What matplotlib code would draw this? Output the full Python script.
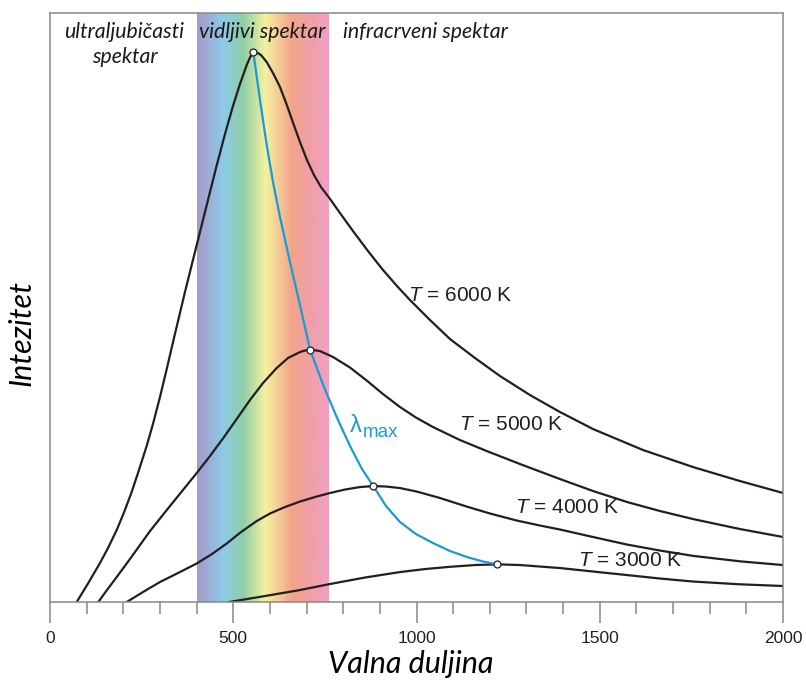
import numpy as np
import matplotlib
matplotlib.use("Agg")
from matplotlib import pyplot as plt
from matplotlib.colors import LinearSegmentedColormap

# wavelength (nm) / intensity (arb. units, 0-100)
wl_6000 = [72.9, 103.7, 136.4, 158.3, 182.0, 201.9, 222.9, 242.8, 263.8, 281.0, 300.1, 319.2,
           338.3, 368.3, 400.3, 425.6, 454.8, 477.5, 499.3, 518.4, 536.7, 545.7, 554.7, 564.8,
           575.7, 591.3, 608.5, 627.6, 646.7, 663.0, 682.1, 701.2, 720.3, 739.4, 761.3, 791.3,
           826.7, 867.7, 908.6, 946.8, 982.3, 1036.8, 1091.4, 1159.6, 1227.8, 1309.7, 1391.5,
           1481.6, 1618.0, 1754.4, 1882.7, 2000]
int_6000 = [0, 3.14, 6.62, 9.17, 12.22, 15.20, 18.68, 22.41, 26.49, 30.22, 34.80, 39.73,
            44.82, 52.63, 60.61, 66.89, 74.11, 79.46, 84.21, 87.95, 91.17, 92.45, 93.38, 93.29,
            92.87, 91.68, 89.81, 87.44, 84.30, 81.41, 78.10, 75.04, 72.50, 70.46, 68.68, 66.04,
            62.99, 59.59, 56.37, 53.65, 51.27, 47.88, 44.65, 41.43, 38.37, 35.14, 32.26,
            29.37, 25.81, 22.92, 20.54, 18.51]

wl_5000 = [131.8, 155.5, 182.0, 218.3, 272.9, 327.4, 362.9, 400.3, 436.6, 472.8, 507.5, 545.7,
           581.2, 618.5, 649.4, 682.1, 695.8, 709.4, 736.7, 772.2, 818.6, 864.1, 908.6, 955.0,
           998.6, 1045.0, 1118.7, 1191.5, 1282.4, 1391.5, 1481.6, 1574.4, 1664.4, 1754.4,
           1882.7, 2000]
int_5000 = [0, 2.04, 4.24, 7.30, 12.05, 16.30, 19.02, 21.90, 24.79, 27.84, 30.90, 34.30,
            37.18, 39.73, 41.43, 42.44, 42.70, 42.87, 42.61, 41.60, 39.81, 37.61, 35.31, 33.11,
            31.32, 29.71, 27.50, 25.64, 23.43, 20.88, 18.85, 16.98, 15.45, 14.09,
            12.39, 11.04]

wl_4000 = [209.3, 253.8, 300.1, 349.2, 400.3, 442.0, 482.1, 521.1, 564.0, 600.3, 641.2, 682.1,
           723.1, 764.0, 804.9, 845.8, 882.1, 916.8, 955.0, 1000.5, 1064.1, 1136.9, 1200.5,
           1273.4, 1336.9, 1391.5, 1481.6, 1574.4, 1664.4, 1754.4, 1882.7, 2000]
int_4000 = [0, 1.70, 3.40, 4.92, 6.54, 8.15, 9.93, 11.88, 13.75, 15.03, 16.13, 17.06,
            17.83, 18.51, 19.10, 19.52, 19.69, 19.61, 19.35, 18.76, 17.66, 16.21, 15.03,
            13.84, 12.99, 12.31, 11.04, 9.76, 8.74, 7.84, 6.91, 6.28]

wl_3000 = [488.4, 586.6, 682.1, 764.0, 859.5, 955.0, 1023.2, 1091.4, 1159.6, 1219.6, 1282.4,
           1391.5, 1481.6, 1574.4, 1664.4, 1754.4, 1882.7, 2000]
int_3000 = [0, 1.02, 2.04, 3.06, 4.16, 5.09, 5.60, 5.98, 6.28, 6.40, 6.28,
            5.77, 5.18, 4.58, 3.99, 3.48, 3.01, 2.72]

# line through the maxima
wl_max = [554.7, 573.0, 591.3, 608.5, 627.6, 654.8, 682.1, 709.4, 747.6, 785.8, 818.6, 851.3,
          882.1, 916.8, 955.0, 998.6, 1045.0, 1091.4, 1137.8, 1181.4, 1219.6]
int_max = [93.38, 85.23, 77.59, 71.31, 65.37, 57.72, 50.42, 42.87, 36.50, 30.90, 26.49, 22.58,
           19.69, 16.30, 13.58, 11.54, 10.02, 8.66, 7.64, 6.88, 6.40]

peak_wl = [554.7, 709.4, 882.1, 1219.6]
peak_int = [93.38, 42.87, 19.69, 6.40]

labels = ["$\\mathit{T}$ = 6000 K", "$\\mathit{T}$ = 5000 K",
          "$\\mathit{T}$ = 4000 K", "$\\mathit{T}$ = 3000 K"]
label_pos = [(977, 52.0), (1116, 30.1), (1269, 16.0), (1441, 7.1)]

visible = (400, 760)

plt.rcParams['mathtext.fontset'] = 'custom'
plt.rcParams['mathtext.rm'] = 'Liberation Sans'
plt.rcParams['mathtext.it'] = 'Liberation Sans:italic'

fig = plt.figure(figsize=(8.06, 6.86), dpi=100)
ax = fig.add_axes([0.062, 0.1224, 0.9095, 0.8586])

# rainbow band for the visible part
spec = LinearSegmentedColormap.from_list("spec", [
    (0.0, "#a899c8"), (0.2, "#8ccbe8"), (0.35, "#8fcfa6"), (0.52, "#f6f1a0"),
    (0.72, "#f2a48a"), (0.86, "#f0a0a6"), (1.0, "#f0a0c2")])
ax.imshow(np.linspace(0, 1, 256)[None, :], cmap=spec, aspect='auto',
          extent=[visible[0], visible[1], 0, 100], zorder=0)

black = "#231f20"
blue = "#1b9ad8"
for wl, iv in [(wl_6000, int_6000), (wl_5000, int_5000), (wl_4000, int_4000), (wl_3000, int_3000)]:
    ax.plot(wl, iv, color=black, lw=1.6, solid_joinstyle='round', solid_capstyle='round', zorder=2)

ax.plot(wl_max, int_max, color=blue, lw=1.6, solid_joinstyle='round', zorder=3)
ax.plot(peak_wl, peak_int, 'o', ms=5, mfc='white', mec=black, mew=0.9, zorder=4)

for lab, (x, y) in zip(labels, label_pos):
    ax.text(x, y, lab, fontsize=15, family='Liberation Sans', color=black, va='center')

ax.text(819, 28.9, "λ", fontsize=17, family='Liberation Sans', color=blue, va='baseline')
ax.text(854, 28.0, "max", fontsize=13.5, family='Liberation Sans', color=blue, va='baseline')

top_font = dict(fontsize=15.3, family='Lato', style='italic', va='center', color='#1a1a1a')
ax.text(203, 96.8, "ultraljubičasti", ha='center', **top_font)
ax.text(203, 92.5, "spektar", ha='center', **top_font)
ax.text(580, 96.8, "vidljivi spektar", ha='center', **top_font)
ax.text(800, 96.8, "infracrveni spektar", ha='left', **top_font)

ax.set_xlim(0, 2000)
ax.set_ylim(0, 100)
ax.set_xticks([0, 500, 1000, 1500, 2000])
ax.set_xticks(np.arange(0, 2001, 100), minor=True)
ax.set_yticks([])
ax.tick_params(axis='x', which='major', length=15, width=1.1, color='#888888',
               labelsize=12.5, pad=6)
ax.tick_params(axis='x', which='minor', length=8.5, width=1.1, color='#888888')
for lbl in ax.get_xticklabels():
    lbl.set_family('Liberation Sans')
    lbl.set_color('#222222')
for s in ax.spines.values():
    s.set_color('#888888')
    s.set_linewidth(1.1)

ax.set_xlabel("Valna duljina", fontsize=22, family='Lato', style='italic', labelpad=3)
ax.xaxis.label.set_x(0.492)
ax.set_ylabel("Intezitet", fontsize=22, family='Lato', style='italic')
ax.yaxis.set_label_coords(-0.02, 0.457)

fig.savefig("out.png", dpi=100)
